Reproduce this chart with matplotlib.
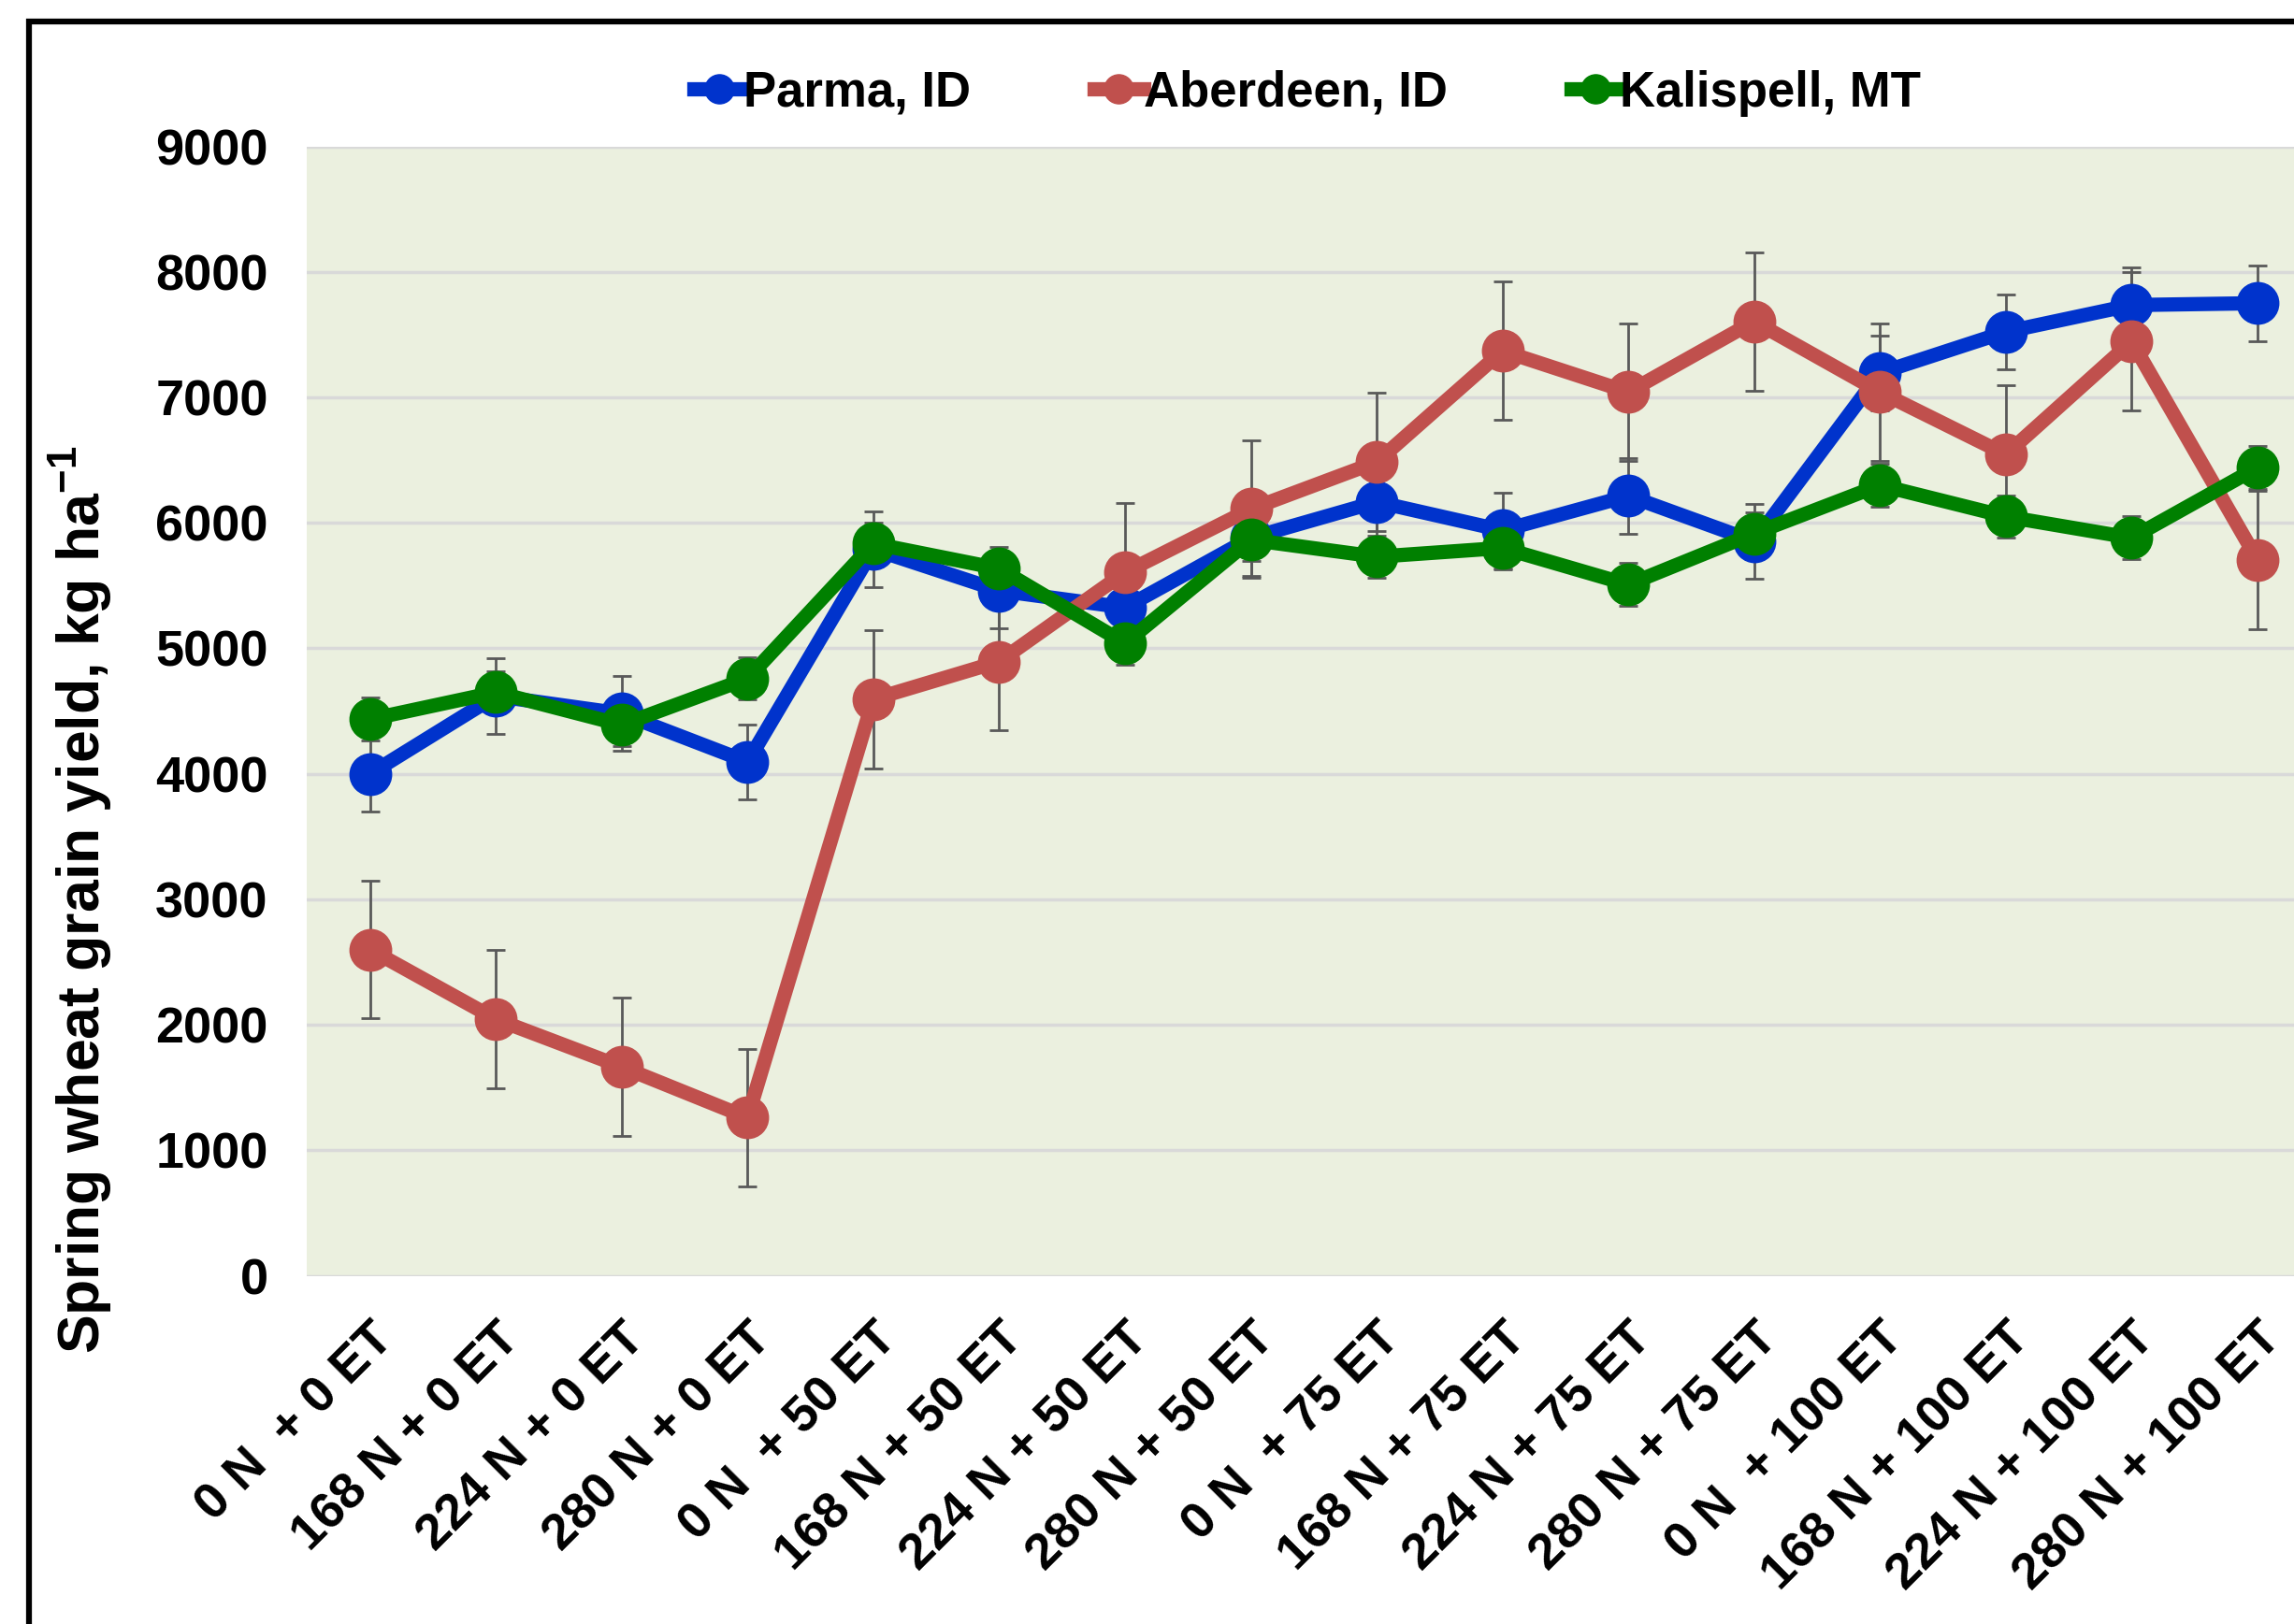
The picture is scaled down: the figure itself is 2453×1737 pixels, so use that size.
import numpy as np
import matplotlib
matplotlib.use('Agg')
import matplotlib.pyplot as plt
from matplotlib.patches import Rectangle

plt.rcParams['font.family'] = ['Liberation Sans', 'DejaVu Sans']
plt.rcParams['font.weight'] = 'bold'
plt.rcParams['mathtext.fontset'] = 'custom'
plt.rcParams['mathtext.rm'] = 'Liberation Sans:bold'
plt.rcParams['mathtext.it'] = 'Liberation Sans:bold'
plt.rcParams['mathtext.bf'] = 'Liberation Sans:bold'

# treatments (N rate + ET level)
labels = ['0 N  + 0 ET', '168 N + 0 ET', '224 N + 0 ET', '280 N + 0 ET',
          '0 N  + 50 ET', '168 N + 50 ET', '224 N + 50 ET', '280 N + 50 ET',
          '0 N  + 75 ET', '168 N + 75 ET', '224 N + 75 ET', '280 N + 75 ET',
          '0 N  + 100 ET', '168 N + 100 ET', '224 N + 100 ET', '280 N + 100 ET']

# grain yield, kg/ha
parma = [4000, 4620, 4480, 4095, 5790, 5460, 5325, 5880,
         6167, 5940, 6215, 5852, 7195, 7522, 7735, 7750]
aberdeen = [2600, 2045, 1665, 1260, 4595, 4895, 5605, 6110,
            6485, 7370, 7042, 7605, 7042, 6545, 7445, 5705]
kalispell = [4435, 4650, 4390, 4760, 5835, 5635, 5040, 5865,
             5730, 5800, 5508, 5915, 6300, 6050, 5880, 6440]

# error bars
parma_err = [300] * 16
aberdeen_err = [550] * 16
kalispell_err = [170] * 16

series = [('Parma, ID', parma, parma_err, '#0033CC'),
          ('Aberdeen, ID', aberdeen, aberdeen_err, '#C0504D'),
          ('Kalispell, MT', kalispell, kalispell_err, '#008000')]

fig = plt.figure(figsize=(24.53, 17.37), dpi=100)
ax = fig.add_axes([0.1339, 0.2144, 0.8776, 0.6955])
ax.set_facecolor('#EBF0DF')
x = np.arange(len(labels))

for name, vals, err, col in series:
    ax.errorbar(x, vals, yerr=err, fmt='none', ecolor='#595959',
                elinewidth=2, capsize=7, capthick=2, zorder=2)
for name, vals, err, col in series:
    ax.plot(x, vals, color=col, lw=11, marker='o', markersize=32,
            label=name, zorder=3)

ax.set_xlim(-0.5, 15.5)
ax.set_ylim(0, 9000)
ax.set_yticks(np.arange(0, 9001, 1000))
ax.grid(axis='y', color='#D9D9D9', lw=2.5)
ax.set_axisbelow(True)
for s in ax.spines.values():
    s.set_visible(False)
ax.tick_params(axis='both', length=0, labelsize=39)
ax.tick_params(axis='y', pad=30)
ax.set_xticks(x)
ax.set_xticklabels(labels, rotation=45, ha='right', va='top',
                   rotation_mode='anchor', fontsize=39)
ax.tick_params(axis='x', pad=30)
for t in ax.get_yticklabels():
    t.set_fontweight('bold')

fig.text(0.035, 0.446, 'Spring wheat grain yield, kg ha$^{-1}$',
         rotation=90, ha='center', va='center', fontsize=45, fontweight='bold')

ax.legend(loc='center', bbox_to_anchor=(0.497, 1.047), ncol=3, frameon=False,
          fontsize=38, handlelength=1.0, handletextpad=0.0, columnspacing=2.5,
          markerscale=0.7)

fig.patches.append(Rectangle((0.0128, -0.2), 1.5, 0.987 + 0.2,
                             transform=fig.transFigure, fill=False,
                             edgecolor='black', lw=4.5))

fig.savefig('out.png', dpi=100)
